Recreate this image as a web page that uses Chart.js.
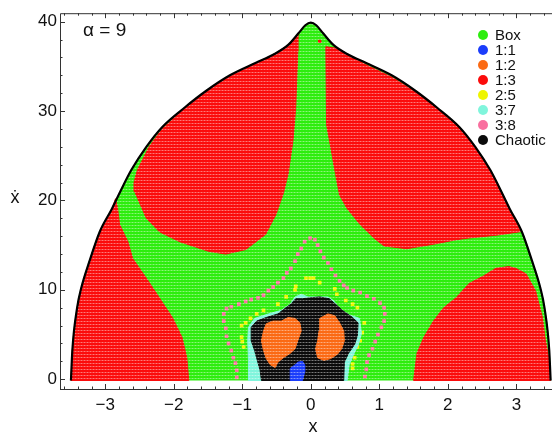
<!DOCTYPE html>
<html>
<head>
<meta charset="utf-8">
<script src="https://cdn.jsdelivr.net/npm/chart.js@4.4.1/dist/chart.umd.min.js"></script>
<style>
  body { margin: 0; background: #fff; }
</style>
</head>
<body>
<canvas id="mapa" width="556" height="439"></canvas>
<script>
const fuente = '"Liberation Sans", Arial, sans-serif';

// orbit classes (legend order)
const clases = ["Box", "1:1", "1:2", "1:3", "2:5", "3:7", "3:8", "Chaotic"];
const colores = ["#2ded0e", "#1b3dfb", "#fb6a14", "#fb0c0c", "#eef500", "#80f5dc", "#f96f9f", "#0b0b0b"];

const xTicks = [-3, -2, -1, 0, 1, 2, 3];
const yTicks = [0, 10, 20, 30, 40];

// zero velocity curve (x, xdot)
const borde = [
  [-3.5, -0.15], [-3.48, 3.2], [-3.41, 8.0], [-3.35, 10.2], [-3.23, 13.2], [-3.08, 16.5],
  [-2.90, 19.1], [-2.78, 21.0], [-2.62, 23.4], [-2.40, 26.0], [-2.17, 28.2], [-1.84, 30.4],
  [-1.52, 32.3], [-1.18, 34.0], [-0.80, 35.4], [-0.55, 36.3], [-0.33, 37.4], [-0.18, 38.7],
  [-0.08, 39.6], [0, 39.9],
  [0.08, 39.6], [0.18, 38.7], [0.33, 37.4], [0.55, 36.3], [0.80, 35.4], [1.18, 34.0],
  [1.52, 32.3], [1.84, 30.4], [2.17, 28.2], [2.40, 26.0], [2.62, 23.4], [2.78, 21.0],
  [2.90, 19.1], [3.08, 16.5], [3.23, 13.2], [3.35, 10.2], [3.41, 8.0], [3.48, 3.2], [3.5, -0.15]
];

// 1:3 regions
const rojoSupIzq = [
  [-2.18, 27.9], [-1.84, 30.4], [-1.52, 32.3], [-1.18, 34.0], [-0.80, 35.4], [-0.55, 36.3],
  [-0.33, 37.4], [-0.19, 38.6], [-0.19, 36.7], [-0.22, 30.4], [-0.26, 26.7], [-0.33, 23.0],
  [-0.40, 20.8], [-0.51, 18.4], [-0.66, 16.2], [-0.95, 14.5], [-1.24, 14.0], [-1.49, 14.3],
  [-1.92, 15.4], [-2.21, 16.5], [-2.40, 18.0], [-2.57, 21.0], [-2.58, 22.0], [-2.53, 23.4],
  [-2.36, 26.0], [-2.18, 27.9]
];
const rojoSupDer = [
  [0.22, 37.2], [0.40, 37.0], [0.62, 36.0], [0.80, 35.2], [1.18, 33.8], [1.52, 32.2],
  [1.84, 30.4], [2.17, 28.2], [2.40, 26.0], [2.62, 23.4], [2.78, 21.0], [2.90, 19.1],
  [3.06, 16.5], [2.70, 16.1], [2.31, 15.8], [2.12, 15.6], [1.79, 15.1], [1.40, 14.6],
  [1.07, 14.9], [0.92, 15.8], [0.72, 17.3], [0.53, 19.1], [0.42, 20.6], [0.36, 23.0],
  [0.29, 26.0], [0.23, 28.5], [0.22, 37.2]
];
const rojoInfIzq = [
  [-2.85, 20.2], [-2.82, 19.1], [-2.79, 17.3], [-2.67, 15.4], [-2.60, 13.5], [-2.40, 11.3],
  [-2.21, 9.1], [-2.02, 6.9], [-1.88, 4.7], [-1.81, 2.4], [-1.78, -0.15], [-3.5, -0.15],
  [-3.48, 3.2], [-3.41, 8.0], [-3.35, 10.2], [-3.23, 13.2], [-3.08, 16.5], [-2.90, 19.1],
  [-2.85, 20.2]
];
const rojoInfDer = [
  [2.89, 12.6], [2.70, 12.4], [2.51, 11.5], [2.31, 10.7], [2.12, 9.1], [1.94, 8.0],
  [1.79, 6.5], [1.65, 4.7], [1.55, 2.9], [1.50, -0.15], [3.5, -0.15], [3.47, 2.5],
  [3.42, 4.5], [3.38, 6.9], [3.28, 9.9], [3.14, 11.8], [2.99, 12.4], [2.89, 12.6]
];
const rojoSuelto = [[0.13, 37.8]];

// 3:7 and chaotic core
const cian = [
  [-0.91, -0.15], [-0.91, 2.1], [-0.92, 4.3], [-0.91, 5.8], [-0.82, 6.8], [-0.62, 7.3],
  [-0.43, 7.7], [-0.30, 8.4], [-0.23, 9.2], [-0.14, 9.5], [-0.04, 9.2], [0.07, 9.2],
  [0.25, 9.2], [0.33, 8.8], [0.42, 7.9], [0.56, 7.2], [0.71, 6.8], [0.74, 5.1],
  [0.69, 3.8], [0.62, 2.7], [0.56, 1.6], [0.53, -0.15], [-0.91, -0.15]
];
const caos = [
  [-0.72, -0.15], [-0.74, 1.0], [-0.78, 2.1], [-0.82, 3.2], [-0.87, 4.3], [-0.87, 5.8],
  [-0.79, 6.5], [-0.65, 6.9], [-0.48, 7.3], [-0.38, 7.9], [-0.29, 8.4], [-0.22, 9.0],
  [-0.12, 9.0], [-0.01, 9.1], [0.13, 9.2], [0.27, 9.0], [0.36, 8.4], [0.46, 7.7],
  [0.61, 6.9], [0.69, 6.3], [0.68, 4.9], [0.64, 3.9], [0.55, 2.9], [0.49, 1.9],
  [0.48, -0.15], [-0.72, -0.15]
];
const naranjaIzq = [
  [-0.69, 5.4], [-0.65, 6.2], [-0.55, 6.5], [-0.43, 6.5], [-0.33, 6.9], [-0.23, 6.8],
  [-0.16, 6.3], [-0.14, 5.4], [-0.19, 4.3], [-0.23, 3.4], [-0.30, 2.9], [-0.40, 2.4],
  [-0.48, 1.9], [-0.52, 1.3], [-0.59, 1.6], [-0.65, 2.3], [-0.69, 3.2], [-0.72, 4.3],
  [-0.69, 5.4]
];
const naranjaDer = [
  [0.13, 6.8], [0.25, 7.3], [0.35, 7.1], [0.42, 6.3], [0.48, 5.4], [0.49, 4.3],
  [0.45, 3.4], [0.39, 2.8], [0.29, 2.3], [0.19, 2.1], [0.10, 2.4], [0.07, 3.4],
  [0.10, 4.3], [0.12, 5.4], [0.13, 6.8]
];
const azul = [
  [-0.30, -0.15], [-0.30, 1.2], [-0.23, 1.6], [-0.19, 1.9], [-0.12, 2.0], [-0.09, 1.6],
  [-0.09, 0.8], [-0.12, -0.15], [-0.30, -0.15]
];

// 3:8 chain
const rosa = [
  [-1.08, 0.2], [-1.08, 1.0], [-1.10, 1.8], [-1.13, 2.4], [-1.16, 3.2], [-1.20, 4.0],
  [-1.23, 4.8], [-1.24, 5.7], [-1.27, 6.5], [-1.27, 7.3], [-1.23, 7.9], [-1.16, 8.1],
  [-1.05, 8.4], [-0.95, 8.7], [-0.87, 8.9], [-0.77, 9.1], [-0.69, 9.4], [-0.62, 9.9],
  [-0.55, 10.3], [-0.48, 10.8], [-0.40, 11.3], [-0.35, 11.9], [-0.29, 12.4], [-0.23, 13.2],
  [-0.19, 14.0], [-0.14, 14.6], [-0.09, 15.4], [-0.01, 15.8], [0.06, 15.6], [0.10, 15.0],
  [0.14, 14.3], [0.19, 13.6], [0.25, 13.0], [0.30, 12.3], [0.36, 11.6], [0.42, 11.0],
  [0.48, 10.5], [0.53, 10.2], [0.62, 9.9], [0.72, 9.7], [0.82, 9.3], [0.92, 9.0],
  [1.01, 8.5], [1.07, 8.0], [1.08, 7.3], [1.07, 6.5], [1.03, 5.8], [0.98, 5.0],
  [0.94, 4.2], [0.90, 3.4], [0.85, 2.7], [0.82, 1.9], [0.81, 1.1], [0.79, 0.3]
];

// 2:5 points
const amarillo = [
  [-0.07, 11.3], [-0.01, 11.3], [0.04, 11.3], [0.13, 10.8], [-0.22, 10.4], [-0.23, 10.0],
  [0.35, 10.1], [0.38, 9.5], [-0.36, 9.2], [0.51, 8.8], [-0.48, 8.4], [0.61, 8.4],
  [0.68, 8.0], [-0.69, 7.7], [-0.79, 7.3], [-0.88, 6.8], [-0.95, 6.3], [-1.01, 6.0],
  [0.78, 6.3], [0.75, 5.2], [-1.01, 4.7], [-1.00, 4.2], [0.72, 4.3], [0.68, 3.6],
  [-0.98, 3.6], [0.64, 2.4], [0.61, 1.7], [0.61, 1.2], [-0.88, 1.7]
];

const pts = arr => arr.map(([x, y]) => ({ x, y }));

function capa(datos, color) {
  return {
    data: pts(datos), fill: 'shape', backgroundColor: color, borderColor: color,
    borderWidth: 1, pointRadius: 0, tension: 0
  };
}
function puntos(datos, color, r) {
  return {
    data: pts(datos), showLine: false, pointStyle: 'rect', pointRadius: r,
    pointBackgroundColor: color, pointBorderWidth: 0, backgroundColor: color, borderColor: color
  };
}

// bottom layer first
const capas = [
  { data: pts(borde), fill: { value: -0.15 }, backgroundColor: colores[0], borderColor: colores[0],
    borderWidth: 1, pointRadius: 0, cubicInterpolationMode: 'monotone' },
  capa(rojoSupIzq, colores[3]),
  capa(rojoSupDer, colores[3]),
  capa(rojoInfIzq, colores[3]),
  capa(rojoInfDer, colores[3]),
  puntos(rojoSuelto, colores[3], 2.4),
  puntos(rosa, colores[6], 2.6),
  puntos(amarillo, colores[4], 2.6),
  capa(cian, colores[5]),
  capa(caos, colores[7]),
  capa(naranjaIzq, colores[2]),
  capa(naranjaDer, colores[2]),
  capa(azul, colores[1]),
  { data: pts(borde), fill: false, borderColor: '#000', borderWidth: 2.2, pointRadius: 0,
    cubicInterpolationMode: 'monotone' }
];
capas.forEach((d, i) => { d.order = capas.length - i; });
const indiceBorde = capas.length - 1;

// faint white grid texture of the sampled cells
const celda = document.createElement('canvas');
celda.width = 3; celda.height = 3;
{
  const c = celda.getContext('2d');
  c.fillStyle = 'rgba(255,255,255,0.22)';
  c.fillRect(0, 0, 3, 1);
  c.fillStyle = 'rgba(255,255,255,0.3)';
  c.fillRect(0, 0, 1, 1);
}

const textura = {
  id: 'textura',
  beforeDatasetDraw(chart, args) {
    if (args.index !== indiceBorde) return;
    const ctx = chart.ctx, a = chart.chartArea;
    ctx.save();
    ctx.fillStyle = ctx.createPattern(celda, 'repeat');
    ctx.fillRect(a.left + 1, a.top + 1, a.right - a.left - 1, a.bottom - a.top - 1);
    ctx.restore();
  }
};

const marco = {
  id: 'marco',
  afterDraw(chart) {
    const ctx = chart.ctx;
    const a = chart.chartArea;
    const sx = chart.scales.x, sy = chart.scales.y;
    ctx.save();
    ctx.strokeStyle = '#333';
    ctx.lineWidth = 1;
    ctx.beginPath();
    ctx.moveTo(a.left + 0.5, a.bottom + 0.5);
    ctx.lineTo(a.left + 0.5, a.top + 0.5);
    ctx.lineTo(a.right, a.top + 0.5);
    ctx.moveTo(a.left, a.bottom + 0.5);
    ctx.lineTo(a.right, a.bottom + 0.5);
    // minor and major ticks, inward
    for (let v = -3.6; v <= 3.6; v += 0.2) {
      const r = Math.round(v * 10) / 10;
      if (r < sx.min || r > sx.max) continue;
      const px = Math.round(sx.getPixelForValue(r)) + 0.5;
      const len = Number.isInteger(r) ? 5 : 2.5;
      ctx.moveTo(px, a.bottom); ctx.lineTo(px, a.bottom - len);
      ctx.moveTo(px, a.top); ctx.lineTo(px, a.top + len);
    }
    for (let v = 0; v <= 40; v += 2) {
      const py = Math.round(sy.getPixelForValue(v)) + 0.5;
      const len = v % 10 === 0 ? 5 : 2.5;
      ctx.moveTo(a.left, py); ctx.lineTo(a.left + len, py);
    }
    ctx.stroke();

    // legend
    ctx.font = '15px ' + fuente;
    ctx.textBaseline = 'middle';
    ctx.textAlign = 'left';
    clases.forEach((c, i) => {
      const y = 35 + i * 15;
      ctx.beginPath();
      ctx.arc(483, y, 5, 0, 2 * Math.PI);
      ctx.fillStyle = colores[i];
      ctx.fill();
      ctx.fillStyle = '#111';
      ctx.fillText(c, 495, y + 1);
    });

    // labels
    ctx.font = '19px ' + fuente;
    ctx.fillStyle = '#111';
    ctx.fillText('\u03b1 = 9', 83, 31);
    ctx.textAlign = 'center';
    ctx.font = '18px ' + fuente;
    ctx.fillText('x', 313, 427);
    ctx.fillText('\u1e8b', 15, 198);
    ctx.restore();
  }
};

const menos = v => String(v).replace('-', '\u2212');

new Chart(document.getElementById('mapa'), {
  type: 'line',
  data: { datasets: capas },
  options: {
    responsive: false,
    animation: false,
    layout: { padding: { top: 10, right: 0, left: 0, bottom: 0 } },
    plugins: { legend: { display: false }, tooltip: { enabled: false } },
    scales: {
      x: {
        type: 'linear', min: -3.66, max: 3.52,
        afterBuildTicks: s => { s.ticks = xTicks.map(v => ({ value: v })); },
        afterFit: s => { s.height = 50; },
        grid: { display: false, drawTicks: false },
        border: { display: false },
        ticks: { color: '#111', padding: 6, font: { size: 17, family: fuente }, callback: menos, maxRotation: 0 }
      },
      y: {
        type: 'linear', min: -1.1, max: 40.95,
        afterBuildTicks: s => { s.ticks = yTicks.map(v => ({ value: v })); },
        afterFit: s => { s.width = 60; },
        grid: { display: false, drawTicks: false },
        border: { display: false },
        ticks: { color: '#111', padding: 3, font: { size: 17, family: fuente }, callback: menos }
      }
    }
  },
  plugins: [textura, marco]
});
</script>
</body>
</html>
